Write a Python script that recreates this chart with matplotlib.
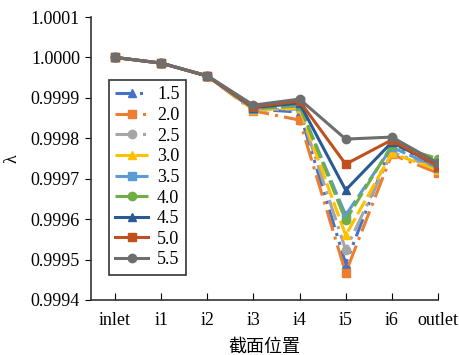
import matplotlib
matplotlib.use("Agg")
import matplotlib.pyplot as plt

# section positions along the x axis
sections = ["inlet", "i1", "i2", "i3", "i4", "i5", "i6", "outlet"]

# lambda values per case
lam_15 = [1.00000, 0.999986, 0.999954, 0.999872, 0.999865, 0.999490, 0.999785, 0.999728]
lam_20 = [1.00000, 0.999986, 0.999954, 0.999868, 0.999845, 0.999467, 0.999760, 0.999714]
lam_25 = [1.00000, 0.999986, 0.999954, 0.999870, 0.999872, 0.999524, 0.999765, 0.999726]
lam_30 = [1.00000, 0.999986, 0.999954, 0.999870, 0.999875, 0.999560, 0.999763, 0.999722]
lam_35 = [1.00000, 0.999986, 0.999954, 0.999873, 0.999880, 0.999610, 0.999778, 0.999727]
lam_40 = [1.00000, 0.999986, 0.999954, 0.999874, 0.999882, 0.999597, 0.999783, 0.999750]
lam_45 = [1.00000, 0.999986, 0.999954, 0.999876, 0.999887, 0.999672, 0.999790, 0.999733]
lam_50 = [1.00000, 0.999986, 0.999954, 0.999878, 0.999892, 0.999736, 0.999796, 0.999730]
lam_55 = [1.00000, 0.999986, 0.999955, 0.999882, 0.999897, 0.999798, 0.999803, 0.999739]

labels = ["1.5", "2.0", "2.5", "3.0", "3.5", "4.0", "4.5", "5.0", "5.5"]
series = [lam_15, lam_20, lam_25, lam_30, lam_35, lam_40, lam_45, lam_50, lam_55]
colors = ["#4472C4", "#ED7D31", "#A5A5A5", "#FFC000", "#5B9BD5",
          "#70AD47", "#2A5A94", "#C0501E", "#6E6E6E"]
markers = ["^", "s", "o"] * 3
styles = [(0, (6, 2, 1, 2, 1, 2)), (0, (7, 2, 1, 2)), (0, (7, 2, 1, 2)),
          (0, (5, 1.5)), (0, (5, 1.5)), (0, (5, 1.5)),
          "-", "-", "-"]

plt.rcParams["font.family"] = ["Liberation Serif", "Noto Sans CJK SC"]
plt.rcParams["font.size"] = 13

fig = plt.figure(figsize=(4.6, 3.55), dpi=100)
ax = fig.add_axes([0.198, 0.155, 0.754, 0.797])

x = list(range(len(sections)))
for vals, lab, c, m, ls in zip(series, labels, colors, markers, styles):
    ax.plot(x, vals, color=c, marker=m, linestyle=ls, linewidth=2.2,
            markersize=6, label=lab)

ax.set_xlim(-0.52, 7.0)
ax.set_ylim(0.9994, 1.0001)
ax.set_xticks(x)
ax.set_xticklabels(sections)
ax.set_yticks([0.9994, 0.9995, 0.9996, 0.9997, 0.9998, 0.9999, 1.0000, 1.0001])
ax.set_yticklabels(["0.9994", "0.9995", "0.9996", "0.9997", "0.9998",
                    "0.9999", "1.0000", "1.0001"])
ax.tick_params(axis="x", direction="in", length=5, pad=9)
ax.tick_params(axis="y", direction="out", length=4, pad=4)
ax.spines["top"].set_visible(False)
ax.spines["right"].set_visible(False)
for s in ("left", "bottom"):
    ax.spines[s].set_linewidth(1.2)
    ax.spines[s].set_color("#333333")

ax.set_xlabel("截面位置", family=["Noto Sans CJK SC"], labelpad=6)
ax.set_ylabel("λ", labelpad=7)

leg = ax.legend(loc="upper left", bbox_to_anchor=(0.052, 0.777),
                borderaxespad=0, frameon=True, fancybox=False,
                edgecolor="black", handlelength=1.8, handletextpad=0.5,
                labelspacing=0.2, borderpad=0.35, fontsize=13)
leg.get_frame().set_linewidth(1.2)

fig.savefig("out.png", dpi=100)
